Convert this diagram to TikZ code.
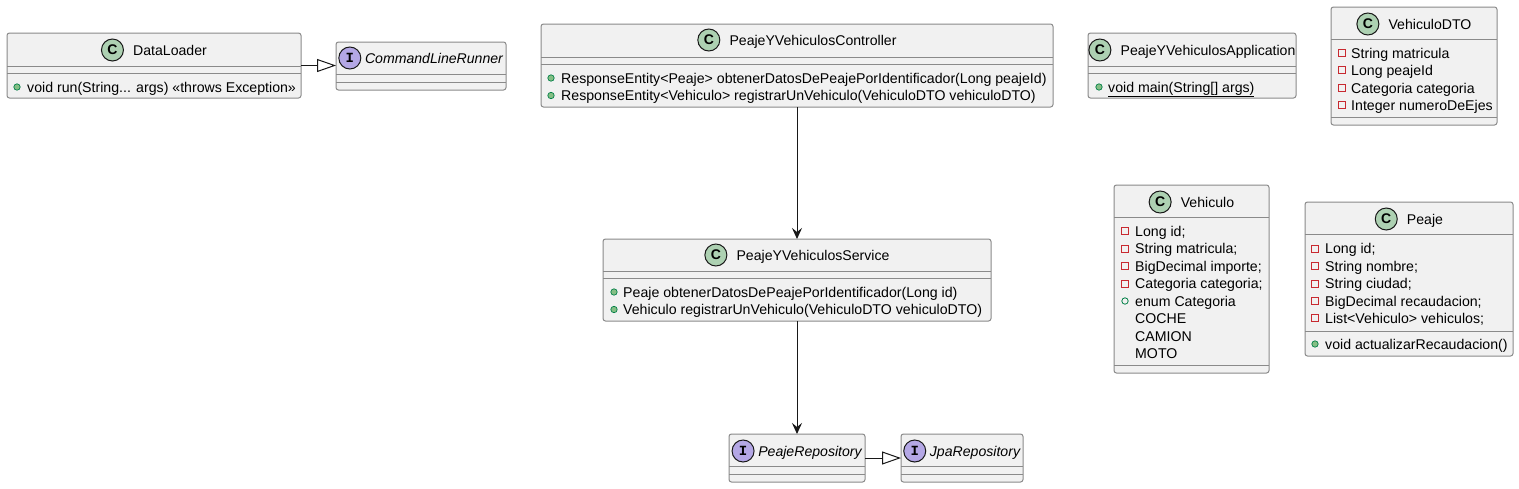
\documentclass[tikz,border=0pt]{standalone}
\usepackage{fontspec}
\setmainfont{Liberation Sans}
\newfontfamily\monofam{Liberation Mono}
\usetikzlibrary{arrows.meta}
\definecolor{boxfill}{HTML}{F1F1F1}
\definecolor{boxline}{HTML}{8A8A8A}
\definecolor{dark}{HTML}{181818}
\definecolor{cfill}{HTML}{ADD1B2}
\definecolor{ifill}{HTML}{B4A7E5}
\definecolor{privcol}{HTML}{C82930}
\definecolor{pubfill}{HTML}{84BE84}
\definecolor{pubdraw}{HTML}{038048}
\tikzset{
 umlbox/.style={draw=boxline, fill=boxfill, line width=1pt, rounded corners=2.5pt, inner sep=0pt, outer sep=0pt},
 divline/.style={draw=boxline, line width=1pt},
 titletext/.style={inner sep=0pt, text height=10pt, text depth=0pt, font=\fontsize{14.1}{17}\selectfont},
 memtext/.style={inner sep=0pt, anchor=west, text height=10pt, text depth=0pt, font=\fontsize{14.15}{17}\selectfont},
 stereo/.style={circle, draw=dark, line width=1pt, minimum size=22pt, inner sep=0pt, font=\fontsize{14}{14}\selectfont\bfseries},
 inh/.style={draw=dark, line width=1pt, -{Triangle[open, length=19pt, width=13pt]}},
 dep/.style={draw=dark, line width=1pt, -{Stealth[length=11pt, width=10pt, inset=4pt]}},
}
\newcommand\umlrect[5]{\node[umlbox, minimum width={#4-#2}, minimum height={#5-#3}] (#1) at ({(#2+#4)/2},{(#3+#5)/2}) {};}
\newcommand\hsep[3]{\draw[divline] (#1,#3) -- (#2,#3);}
\newcommand\ctitle[6]{\node[titletext] (#1) at ({#2+16},#3) {#6};
  \node[stereo, fill=#5] (#1c) at ([xshift=-20.5pt]#1.west) {#4};}
\newcommand\ititle[4]{\node[titletext] (#1) at ({#2+13},#3) {\itshape #4};
  \node[stereo, fill=ifill] (#1c) at ([xshift=-15pt]#1.west) {\monofam\bfseries I};}
\newcommand\mkpriv[2]{\draw[privcol, line width=0.8pt] (#1-3.5,#2-3.5) rectangle (#1+3.5,#2+3.5);}
\newcommand\mkpubm[2]{\draw[pubdraw, fill=pubfill, line width=0.7pt] (#1,#2) circle[radius=3.2pt];}
\newcommand\mkpubf[2]{\draw[pubdraw, line width=0.8pt] (#1,#2) circle[radius=3.2pt];}
\newcommand\mknone[2]{}
\newcommand\mem[6]{\csname mk#2\endcsname{#3}{#5}\node[memtext] (#1) at (#4,#5) {#6};}
\begin{document}
\begin{tikzpicture}[x=1pt, y=-1pt]
\useasboundingbox (0,0) rectangle (1519,488);
\fill[white] (0,0) rectangle (1519,488);

% DataLoader
\umlrect{dl}{7}{33}{301}{98}
\hsep{7}{301}{66}\hsep{7}{301}{73}
\ctitle{dlt}{154}{50}{C}{cfill}{DataLoader}
\mem{dlm1}{pubm}{17}{27}{87}{void run(String... args) «throws Exception»}

% CommandLineRunner
\umlrect{clr}{336}{42}{506}{90}
\hsep{336}{506}{74}\hsep{336}{506}{82}
\ititle{clrt}{421}{58}{CommandLineRunner}

% Controller
\umlrect{ctrl}{541}{24}{1053}{107}
\hsep{541}{1053}{57}\hsep{541}{1053}{64}
\ctitle{ctrlt}{797}{40}{C}{cfill}{PeajeYVehiculosController}
\mem{ctrlm1}{pubm}{551}{561}{78}{ResponseEntity<Peaje> obtenerDatosDePeajePorIdentificador(Long peajeId)}
\mem{ctrlm2}{pubm}{551}{561}{95.5}{ResponseEntity<Vehiculo> registrarUnVehiculo(VehiculoDTO vehiculoDTO)}

% Application
\umlrect{app}{1088}{33}{1296}{98}
\hsep{1088}{1296}{66}\hsep{1088}{1296}{73}
\ctitle{appt}{1192}{50}{C}{cfill}{PeajeYVehiculosApplication}
\mem{appm1}{pubm}{1099}{1108}{87}{\underline{void main(String[] args)}}

% VehiculoDTO
\umlrect{dto}{1331}{7}{1497}{125}
\hsep{1331}{1497}{39}\hsep{1331}{1497}{117}
\ctitle{dtot}{1414}{24}{C}{cfill}{VehiculoDTO}
\mem{dtom1}{priv}{1342}{1351}{53}{String matricula}
\mem{dtom2}{priv}{1342}{1351}{70}{Long peajeId}
\mem{dtom3}{priv}{1342}{1351}{88}{Categoria categoria}
\mem{dtom4}{priv}{1342}{1351}{105}{Integer numeroDeEjes}

% Service
\umlrect{svc}{603}{239}{991}{321}
\hsep{603}{991}{271}\hsep{603}{991}{278}
\ctitle{svct}{797}{255}{C}{cfill}{PeajeYVehiculosService}
\mem{svcm1}{pubm}{614}{623}{292}{Peaje obtenerDatosDePeajePorIdentificador(Long id)}
\mem{svcm2}{pubm}{614}{623}{309.5}{Vehiculo registrarUnVehiculo(VehiculoDTO vehiculoDTO)}

% Vehiculo
\umlrect{veh}{1114}{185}{1269}{373}
\hsep{1114}{1269}{217}\hsep{1114}{1269}{365}
\ctitle{veht}{1191.5}{202}{C}{cfill}{Vehiculo}
\mem{vehm1}{priv}{1125}{1135}{231}{Long id;}
\mem{vehm2}{priv}{1125}{1135}{248.5}{String matricula;}
\mem{vehm3}{priv}{1125}{1135}{266}{BigDecimal importe;}
\mem{vehm4}{priv}{1125}{1135}{283.5}{Categoria categoria;}
\mem{vehm5}{pubf}{1125}{1135}{301}{enum Categoria}
\mem{vehm6}{none}{1125}{1135}{318}{COCHE}
\mem{vehm7}{none}{1125}{1135}{336}{CAMION}
\mem{vehm8}{none}{1125}{1135}{353.5}{MOTO}

% Peaje
\umlrect{pea}{1305}{202}{1513}{356}
\hsep{1305}{1513}{234}\hsep{1305}{1513}{331}
\ctitle{peat}{1409}{219}{C}{cfill}{Peaje}
\mem{peam1}{priv}{1315}{1325}{248.5}{Long id;}
\mem{peam2}{priv}{1315}{1325}{266}{String nombre;}
\mem{peam3}{priv}{1315}{1325}{283.5}{String ciudad;}
\mem{peam4}{priv}{1315}{1325}{301}{BigDecimal recaudacion;}
\mem{peam5}{priv}{1315}{1325}{318}{List<Vehiculo> vehiculos;}
\mem{peam6}{pubm}{1315}{1325}{344}{void actualizarRecaudacion()}

% PeajeRepository
\umlrect{prep}{729}{434}{865}{482}
\hsep{729}{865}{466}\hsep{729}{865}{474}
\ititle{prept}{797}{451}{PeajeRepository}

% JpaRepository
\umlrect{jpa}{901}{434}{1023}{482}
\hsep{901}{1023}{466}\hsep{901}{1023}{474}
\ititle{jpat}{962}{451}{JpaRepository}

% connectors
\draw[inh] (dl.east) -- (dl.east -| clr.west);
\draw[dep] (ctrl.south) -- (svc.north);
\draw[dep] (svc.south) -- (prep.north);
\draw[inh] (prep.east) -- (prep.east -| jpa.west);
\end{tikzpicture}
\end{document}
